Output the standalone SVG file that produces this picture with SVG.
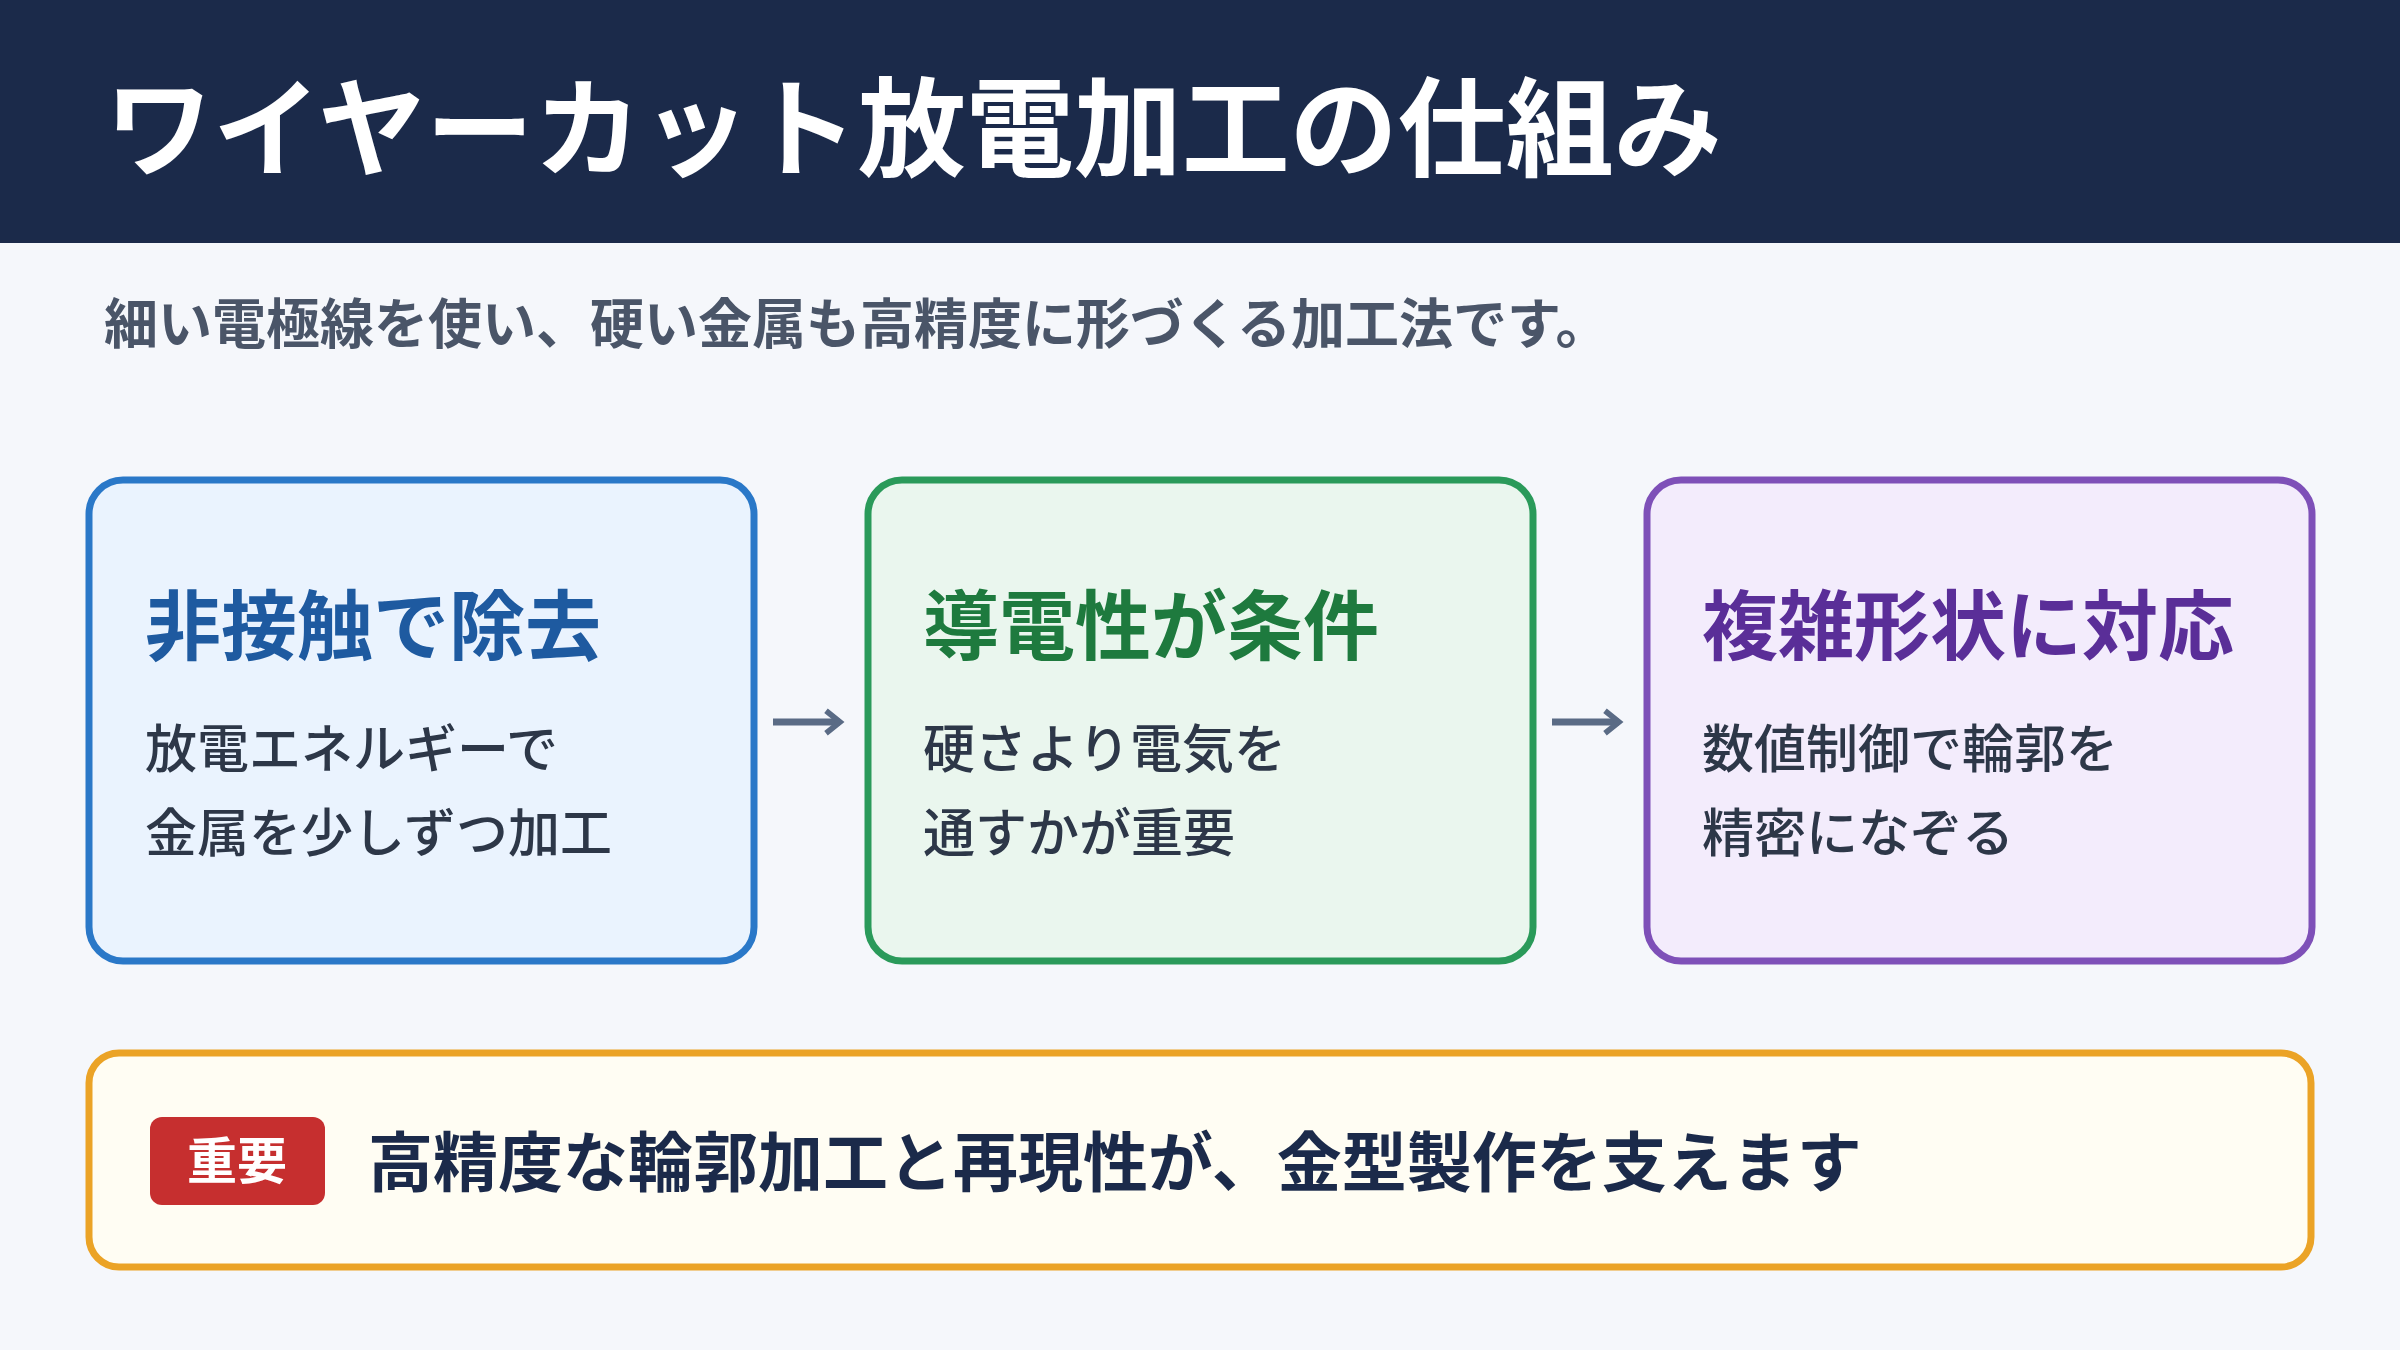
<svg xmlns="http://www.w3.org/2000/svg" width="2400" height="1350" viewBox="0 0 2400 1350">
<defs>
<marker id="ah" viewBox="0 0 10 10" refX="6" refY="5" markerWidth="4" markerHeight="4" orient="auto"><path d="M1,1 L6,5 L1,9" fill="none" stroke="#5a6b85" stroke-width="2"/></marker>
</defs>
<style>
text{font-family:"Noto Sans CJK JP","Noto Sans",sans-serif;font-weight:700}
.box{stroke-width:7}
.h{font-size:76px}
.b{font-size:52px;fill:#2d3748;font-weight:500}
.conn{stroke:#5a6b85;stroke-width:7;fill:none}
</style>
<rect width="2400" height="1350" fill="#f5f7fb"/>
<g id="header"><rect width="2400" height="243" fill="#1b2a4a"/>
<text x="105" y="168" font-size="108" fill="#ffffff">ワイヤーカット放電加工の仕組み</text></g>
<text x="104" y="344" font-size="54" fill="#4a5568" font-weight="500">細い電極線を使い、硬い金属も高精度に形づくる加工法です。</text>
<g id="node1"><rect class="box" x="89" y="480" width="665" height="481" rx="34" fill="#eaf3fe" stroke="#2a78c8"/>
<text class="h" x="145" y="654" fill="#1e5aa0">非接触で除去</text>
<text class="b" x="145" y="768">放電エネルギーで</text><text class="b" x="145" y="852">金属を少しずつ加工</text></g>
<g id="node2"><rect class="box" x="868" y="480" width="665" height="481" rx="34" fill="#eaf6ee" stroke="#2a9a5a"/>
<text class="h" x="923" y="654" fill="#1e7a3e">導電性が条件</text>
<text class="b" x="923" y="768">硬さより電気を</text><text class="b" x="923" y="852">通すかが重要</text></g>
<g id="node3"><rect class="box" x="1647" y="480" width="665" height="481" rx="34" fill="#f3ecfc" stroke="#7e50b8"/>
<text class="h" x="1702" y="654" fill="#5a2e98">複雑形状に対応</text>
<text class="b" x="1702" y="768">数値制御で輪郭を</text><text class="b" x="1702" y="852">精密になぞる</text></g>
<g id="connectors">
<line class="conn" x1="773" y1="722" x2="840" y2="722" marker-end="url(#ah)"/>
<line class="conn" x1="1552" y1="722" x2="1619" y2="722" marker-end="url(#ah)"/>
</g>
<g id="note"><rect class="box" x="89" y="1053" width="2222" height="214" rx="30" fill="#fffdf3" stroke="#eba326"/>
<rect x="150" y="1117" width="175" height="88" rx="12" fill="#c62f2f"/>
<text x="237" y="1179" font-size="50" fill="#ffffff" text-anchor="middle">重要</text>
<text x="368" y="1186" font-size="65" fill="#1b2a4a">高精度な輪郭加工と再現性が、金型製作を支えます</text></g>
</svg>
